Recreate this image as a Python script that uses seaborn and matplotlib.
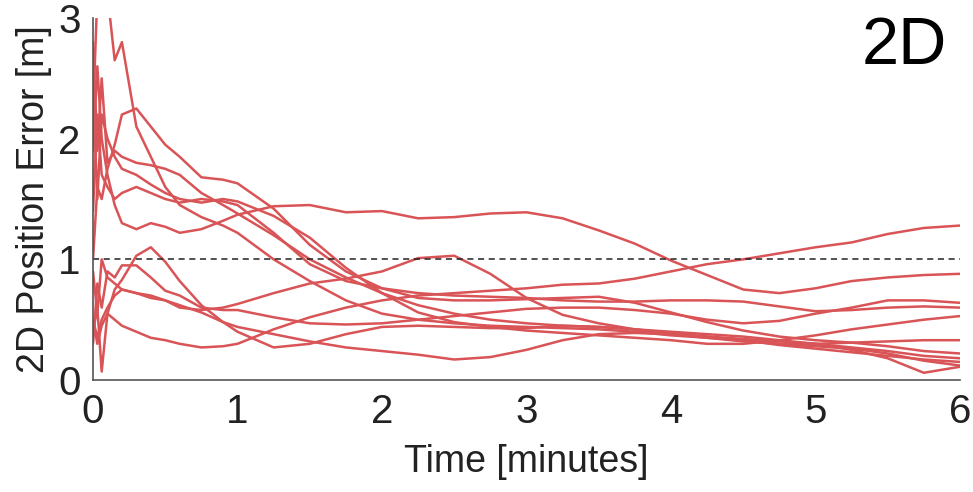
import numpy as np
import pandas as pd
import matplotlib
matplotlib.use("Agg")
import matplotlib.pyplot as plt
import seaborn as sns

# time grid [minutes]
time_min = [0, 0.03, 0.06, 0.1, 0.15, 0.2, 0.3, 0.4, 0.5, 0.6, 0.75, 0.9, 1.0,
            1.25, 1.5, 1.75, 2.0, 2.25, 2.5, 2.75, 3.0, 3.25, 3.5, 3.75, 4.0,
            4.25, 4.5, 4.75, 5.0, 5.25, 5.5, 5.75, 6.0]

run_01 = [1.9, 2.6, 2.0, 1.7, 1.45, 1.3, 1.25, 1.3, 1.27, 1.22, 1.25, 1.32, 1.37,
          1.44, 1.45, 1.39, 1.40, 1.34, 1.35, 1.38, 1.39, 1.34, 1.24, 1.13, 0.99,
          0.87, 0.75, 0.72, 0.76, 0.82, 0.85, 0.87, 0.88]
run_02 = [1.0, 1.6, 1.5, 1.75, 1.95, 2.2, 2.25, 2.1, 1.95, 1.85, 1.68, 1.66, 1.63,
          1.42, 1.12, 0.9, 0.76, 0.68, 0.66, 0.66, 0.67, 0.68, 0.69, 0.64, 0.56,
          0.48, 0.41, 0.36, 0.33, 0.31, 0.28, 0.24, 0.22]
run_03 = [2.2, 3.2, 3.2, 3.2, 2.65, 2.8, 2.1, 1.85, 1.6, 1.45, 1.35, 1.28, 1.22,
          1.0, 0.82, 0.66, 0.55, 0.5, 0.47, 0.45, 0.44, 0.43, 0.42, 0.40, 0.37,
          0.35, 0.33, 0.30, 0.28, 0.26, 0.22, 0.16, 0.12]
run_04 = [1.4, 2.2, 1.7, 1.6, 1.5, 1.55, 1.6, 1.55, 1.5, 1.47, 1.5, 1.48, 1.45,
          1.22, 0.96, 0.82, 0.76, 0.72, 0.70, 0.69, 0.68, 0.66, 0.65, 0.65, 0.66,
          0.66, 0.65, 0.61, 0.57, 0.58, 0.60, 0.61, 0.60]
run_05 = [0.3, 0.8, 0.6, 0.9, 0.85, 0.95, 0.95, 0.85, 0.74, 0.7, 0.6, 0.58, 0.58,
          0.52, 0.47, 0.46, 0.47, 0.50, 0.53, 0.56, 0.59, 0.6, 0.6, 0.58, 0.55,
          0.5, 0.47, 0.49, 0.55, 0.6, 0.66, 0.66, 0.64]
run_06 = [0.5, 0.35, 0.5, 0.6, 0.7, 0.75, 0.72, 0.68, 0.66, 0.6, 0.58, 0.6, 0.63,
          0.72, 0.8, 0.84, 0.9, 1.01, 1.03, 0.88, 0.68, 0.54, 0.47, 0.42, 0.38,
          0.35, 0.32, 0.30, 0.30, 0.31, 0.32, 0.33, 0.33]
run_07 = [2.4, 1.5, 2.2, 2.0, 1.85, 1.75, 1.7, 1.62, 1.55, 1.5, 1.47, 1.5, 1.48,
          1.36, 1.18, 0.93, 0.72, 0.56, 0.48, 0.44, 0.41, 0.39, 0.37, 0.35, 0.33,
          0.30, 0.30, 0.33, 0.37, 0.42, 0.46, 0.50, 0.53]
run_08 = [0.9, 0.55, 1.0, 0.85, 0.8, 0.75, 0.72, 0.7, 0.66, 0.62, 0.56, 0.48, 0.44,
          0.38, 0.32, 0.27, 0.24, 0.21, 0.17, 0.19, 0.25, 0.33, 0.38, 0.39, 0.38,
          0.36, 0.33, 0.29, 0.26, 0.23, 0.2, 0.17, 0.15]
run_09 = [0.4, 0.6, 0.07, 0.55, 0.75, 0.83, 1.03, 1.1, 0.98, 0.82, 0.62, 0.48, 0.4,
          0.27, 0.3, 0.38, 0.44, 0.45, 0.44, 0.43, 0.43, 0.45, 0.44, 0.42, 0.39,
          0.36, 0.34, 0.32, 0.30, 0.25, 0.18, 0.06, 0.11]
run_10 = [0.5, 0.3, 0.45, 0.55, 0.5, 0.45, 0.4, 0.35, 0.33, 0.3, 0.27, 0.28, 0.3,
          0.42, 0.52, 0.6, 0.66, 0.7, 0.72, 0.74, 0.76, 0.79, 0.80, 0.84, 0.9,
          0.96, 1.0, 1.05, 1.1, 1.14, 1.21, 1.26, 1.28]
run_11 = [2.8, 1.9, 2.5, 1.8, 1.9, 1.85, 1.8, 1.78, 1.75, 1.7, 1.55, 1.45, 1.38,
          1.2, 1.0, 0.85, 0.72, 0.62, 0.55, 0.5, 0.47, 0.45, 0.44, 0.42, 0.40,
          0.38, 0.36, 0.33, 0.30, 0.27, 0.24, 0.2, 0.18]

runs = [run_01, run_02, run_03, run_04, run_05, run_06, run_07, run_08,
        run_09, run_10, run_11]

x_ticks = [0, 1, 2, 3, 4, 5, 6]
y_ticks = [0, 1, 2, 3]
threshold = 1.0

frames = []
for i, r in enumerate(runs):
    frames.append(pd.DataFrame({"t": time_min, "err": r, "run": i}))
df = pd.concat(frames, ignore_index=True)

sns.set_theme(style="white")
plt.rcParams["font.family"] = ["Liberation Sans Narrow", "Liberation Sans", "DejaVu Sans"]

fig = plt.figure(figsize=(9.73, 4.92), dpi=100)
ax = fig.add_axes([0.0956, 0.2276, 0.8910, 0.7358])

line_color = "#D95457"
sns.lineplot(data=df, x="t", y="err", units="run", estimator=None,
             color=line_color, linewidth=1.8, ax=ax, legend=False)
ax.axhline(threshold, color="#222222", linestyle=(0, (4, 3)), linewidth=1.1)

ax.set_xlim(0, 6)
ax.set_ylim(0, 3)
ax.set_xticks(x_ticks)
ax.set_yticks(y_ticks)
ax.tick_params(direction="in", length=7, width=1, color="#555555",
               labelsize=29, labelcolor="#222222", pad=9)
for s in ["top", "right"]:
    ax.spines[s].set_visible(False)
for s in ["left", "bottom"]:
    ax.spines[s].set_color("#555555")
    ax.spines[s].set_linewidth(1.2)

ax.set_xlabel("Time [minutes]", fontsize=27, color="#222222", labelpad=10)
ax.set_ylabel("2D Position Error [m]", fontsize=27, color="#222222", labelpad=4)
ax.text(0.985, 1.005, "2D", transform=ax.transAxes, ha="right", va="top",
        fontsize=48, color="black")

fig.savefig("out.png", dpi=100)
